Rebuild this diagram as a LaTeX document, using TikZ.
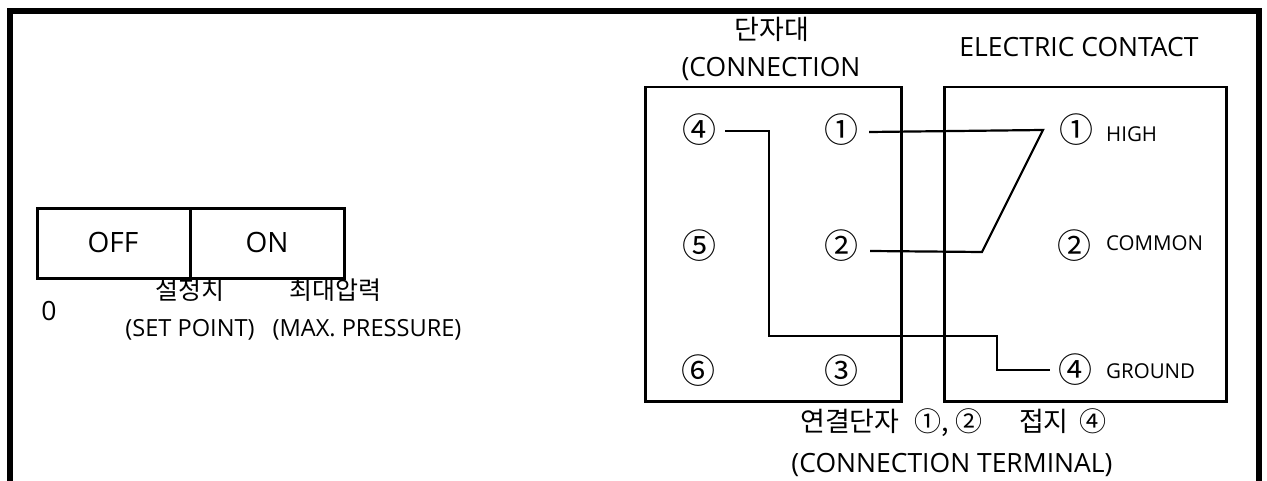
\documentclass[tikz,border=0pt]{standalone}
\usepackage{fontspec}
\setmainfont{Open Sans}
\newfontfamily\kr{Noto Sans CJK KR}
\tikzset{
  x=1pt,y=-1pt,
  frameline/.style={line width=6pt,line cap=butt,line join=miter},
  boxline/.style={draw,line width=2.6pt,inner sep=0pt},
  wire/.style={line width=2.2pt,line join=miter},
  swtext/.style={font=\fontsize{28}{30}\selectfont},
  labelA/.style={font=\fontsize{26.5}{30}\selectfont,inner sep=0pt,anchor=base},
  labelB/.style={font=\fontsize{23.6}{26}\selectfont,inner sep=0pt,anchor=base},
  labelC/.style={font=\fontsize{20.5}{24}\selectfont,inner sep=0pt,anchor=base west},
  labelK/.style={font=\kr\fontsize{27}{30}\selectfont,inner sep=0pt},
  labelKs/.style={font=\kr\fontsize{25}{28}\selectfont,inner sep=0pt},
  circ/.style={font=\kr\fontsize{34}{36}\selectfont,inner sep=0pt,minimum width=36pt,minimum height=36pt},
}
\begin{document}
\begin{tikzpicture}
\useasboundingbox (0,0) rectangle (1267,481);
\draw[frameline] (9.5,481) -- (9.5,11) -- (1258.5,11) -- (1258.5,481);
% switch
\node[boxline,swtext,minimum width=153pt,minimum height=70pt,anchor=north west] (off) at (36,207) {};
\node[boxline,swtext,minimum width=154pt,minimum height=70pt,anchor=north west] (on) at (189,207) {};
\node[swtext,inner sep=0pt,anchor=base] (offt) at (113,253) {OFF};
\node[swtext,inner sep=0pt,anchor=base] (ont) at (267,253) {ON};
\node[labelA,anchor=base] (zero) at (49,320) {0};
\node[labelKs] (setk) at (190,290) {설정치};
\node[labelKs] (maxk) at (335,290) {최대압력};
\node[labelB] (sete) at (190,336) {(SET POINT)};
\node[labelB] (maxe) at (367,336) {(MAX. PRESSURE)};
% titles
\node[labelK] (tk) at (772,29) {단자대};
\node[labelA] (te) at (771,77) {(CONNECTION};
\node[labelA] (ec) at (1079,57) {ELECTRIC CONTACT};
% boxes
\node[boxline,minimum width=256pt,minimum height=314.5pt,anchor=north west] (lbox) at (644,85.7) {};
\node[boxline,minimum width=282.3pt,minimum height=314.5pt,anchor=north west] (rbox) at (943,85.7) {};
% terminals
\node[circ] (l4) at (699.5,130) {④};
\node[circ] (l1) at (841,130) {①};
\node[circ] (l5) at (699,246) {⑤};
\node[circ] (l2) at (841,246) {②};
\node[circ] (l6) at (698,371) {⑥};
\node[circ] (l3) at (841,371) {③};
\node[circ] (r1) at (1076,130) {①};
\node[circ] (r2) at (1074.5,246) {②};
\node[circ] (r4) at (1075,370) {④};
\node[labelC] (high) at (1106,142) {HIGH};
\node[labelC] (common) at (1106,251) {COMMON};
\node[labelC] (ground) at (1106,378) {GROUND};
% wires
\coordinate (j1) at (1043,130);
\coordinate (j2) at (982,252);
\coordinate (g1) at (769,131);
\coordinate (g2) at (769,336);
\coordinate (g3) at (997,336);
\coordinate (g4) at (997,370);
\draw[wire] ([xshift=10pt,yshift=-2pt]l1.east) -- (j1) -- (j2) -- ([xshift=11pt,yshift=-5pt]l2.east);
\draw[wire] ([xshift=7.5pt,yshift=-1pt]l4.east) -- (g1) -- (g2) -- (g3) -- (g4) -- ([xshift=-7pt]r4.west);
% bottom text
\node[labelK,anchor=west] (ck) at (800,423) {연결단자 \hspace{9pt}①, ②\hspace{37pt}접지 \hspace{5pt}④};
\node[labelA] (ct) at (952,472.5) {(CONNECTION TERMINAL)};
\end{tikzpicture}
\end{document}
